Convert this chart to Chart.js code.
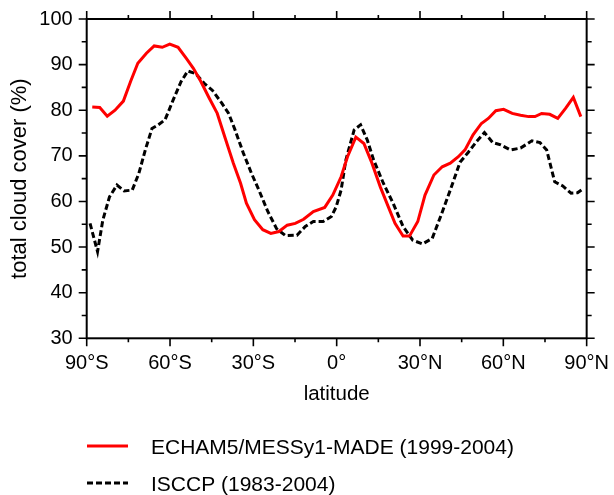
<!DOCTYPE html>
<html>
<head>
<meta charset="utf-8">
<script src="https://cdn.jsdelivr.net/npm/chart.js@4.4.1/dist/chart.umd.min.js"></script>
<style>
html,body{margin:0;padding:0;background:#ffffff;}
#wrap{width:614px;height:495px;position:relative;}
</style>
</head>
<body>
<div id="wrap"><canvas id="c" width="614" height="495"></canvas></div>
<script>
// ---- data ----
const seriesNames = ['ECHAM5/MESSy1-MADE (1999-2004)', 'ISCCP (1983-2004)'];

const modelLat = [-88.0,-85.3,-82.6,-79.8,-76.8,-74.2,-71.6,-68.5,-65.7,-62.8,-60.1,-57.1,-54.2,-51.6,-48.9,-46.0,-43.0,-40.1,-37.2,-34.6,-32.5,-29.6,-26.6,-23.7,-20.8,-17.8,-14.9,-11.9,-8.4,-4.3,-1.4,1.6,3.9,6.9,9.8,12.7,15.7,18.6,21.0,23.9,26.2,29.2,31.8,35.0,38.0,40.9,43.8,46.2,49.1,52.1,54.6,57.3,60.1,63.2,66.2,69.1,71.4,73.8,76.7,79.6,82.4,85.2,87.9];
const modelCloud = [80.7,80.6,78.7,80.0,82.0,86.3,90.3,92.5,94.1,93.8,94.5,93.8,91.4,89.2,86.3,82.8,79.3,73.8,68.4,64.0,59.6,56.0,53.8,53.0,53.4,54.8,55.2,56.1,57.8,58.7,61.4,65.4,69.8,74.1,72.7,68.4,63.2,58.8,55.2,52.4,52.4,55.6,61.4,65.8,67.6,68.4,69.8,71.3,74.6,77.1,78.2,79.9,80.2,79.3,78.9,78.6,78.6,79.3,79.1,78.2,80.4,82.8,78.6];

const obsLat = [-88.8,-86.1,-84.2,-81.8,-79.1,-76.5,-73.6,-71.2,-68.9,-66.5,-64.2,-61.8,-58.9,-56.0,-53.6,-50.7,-47.7,-44.8,-41.3,-38.9,-36.6,-33.6,-30.7,-27.8,-24.8,-21.6,-18.4,-14.3,-11.3,-8.4,-4.9,-1.9,-0.2,1.6,3.3,6.3,8.6,11.0,13.3,16.8,20.4,23.9,27.4,30.9,34.4,37.6,40.9,44.4,47.4,50.3,53.2,56.2,59.1,62.6,66.2,70.3,73.2,75.6,78.5,81.4,84.4,86.7,89.0];
const obsCloud = [55.2,49.0,55.9,61.0,63.6,62.3,62.5,66.2,71.3,76.0,76.8,77.9,82.2,86.3,88.6,88.0,85.9,84.4,81.5,79.3,75.7,70.6,66.2,62.2,57.8,54.0,52.5,52.6,54.5,55.6,55.6,56.7,58.8,62.5,69.1,75.7,76.8,73.5,69.1,64.0,59.5,54.5,51.5,50.7,51.9,57.0,62.5,68.6,70.8,73.1,75.1,72.9,72.4,71.3,71.7,73.3,72.9,71.3,64.3,63.4,61.8,61.9,62.9];

const xTickValues = [-90,-60,-30,0,30,60,90];
const xTickLabels = ['90°S','60°S','30°S','0°','30°N','60°N','90°N'];
const xMinorStep = 15;
const yTickValues = [30,40,50,60,70,80,90,100];
const yMinorStep = 5;
const xTitle = 'latitude';
const yTitle = 'total cloud cover (%)';

// ---- styling ----
const FONT = '"Liberation Sans", Arial, Helvetica, sans-serif';
const colors = ['#ff0000', '#000000'];
const dashes = [[], [6, 3]];

function toPoints(xs, ys){ return xs.map((x,i)=>({x:x, y:ys[i]})); }

const frameAndTicks = {
  id: 'frameAndTicks',
  afterDatasetsDraw(chart){
    const ctx = chart.ctx;
    const a = chart.chartArea;
    const xs = chart.scales.x, ys = chart.scales.y;
    ctx.save();
    ctx.strokeStyle = '#000';
    ctx.lineWidth = 2;
    ctx.setLineDash([]);
    ctx.strokeRect(a.left, a.top, a.right - a.left, a.bottom - a.top);
    ctx.lineWidth = 1.6;
    ctx.beginPath();
    for (let v = xs.min; v <= xs.max + 1e-9; v += xMinorStep){
      const px = xs.getPixelForValue(v);
      const len = (Math.abs(v) % 30 === 0) ? 8 : 4;
      ctx.moveTo(px, a.bottom); ctx.lineTo(px, a.bottom + len);
      ctx.moveTo(px, a.top); ctx.lineTo(px, a.top - len);
    }
    for (let v = ys.min; v <= ys.max + 1e-9; v += yMinorStep){
      const py = ys.getPixelForValue(v);
      const len = (v % 10 === 0) ? 8 : 5;
      ctx.moveTo(a.left, py); ctx.lineTo(a.left - len, py);
      ctx.moveTo(a.right, py); ctx.lineTo(a.right + len, py);
    }
    ctx.stroke();
    ctx.restore();
  }
};

const bottomLegend = {
  id: 'bottomLegend',
  afterDraw(chart){
    const ctx = chart.ctx;
    const rows = [446, 483];
    ctx.save();
    chart.data.datasets.forEach((ds, i) => {
      const y = rows[i];
      ctx.strokeStyle = ds.borderColor;
      ctx.lineWidth = ds.borderWidth;
      ctx.setLineDash(ds.borderDash || []);
      ctx.beginPath();
      ctx.moveTo(87, y); ctx.lineTo(128, y);
      ctx.stroke();
      ctx.setLineDash([]);
      ctx.fillStyle = '#000';
      ctx.font = '21px ' + FONT;
      ctx.textBaseline = 'middle';
      ctx.textAlign = 'left';
      ctx.fillText(ds.label, 151, y + 2);
    });
    ctx.restore();
  }
};

new Chart(document.getElementById('c'), {
  type: 'line',
  data: {
    datasets: [
      { label: seriesNames[0], data: toPoints(modelLat, modelCloud), borderColor: colors[0], borderWidth: 3, borderDash: dashes[0], pointRadius: 0, tension: 0, fill: false },
      { label: seriesNames[1], data: toPoints(obsLat, obsCloud), borderColor: colors[1], borderWidth: 3, borderDash: dashes[1], pointRadius: 0, tension: 0, fill: false }
    ]
  },
  options: {
    responsive: false,
    animation: false,
    devicePixelRatio: 1,
    layout: { padding: { top: 19, right: 16.3, bottom: 88, left: 0 } },
    plugins: { legend: { display: false }, tooltip: { enabled: false } },
    scales: {
      x: {
        type: 'linear', min: -90, max: 90,
        afterBuildTicks: s => { s.ticks = xTickValues.map(v => ({ value: v })); },
        afterFit: s => { s.height = 68.7; },
        grid: { display: true, drawOnChartArea: false, drawTicks: true, tickLength: 8, color: 'rgba(0,0,0,0)' },
        border: { display: false },
        ticks: {
          padding: 5, color: '#000', maxRotation: 0, autoSkip: false,
          font: { family: FONT, size: 20 },
          callback: v => { const i = xTickValues.indexOf(v); return i >= 0 ? xTickLabels[i] : ''; }
        },
        title: { display: true, text: xTitle, color: '#000', font: { family: FONT, size: 20.5 }, padding: { top: 0, bottom: 0 } }
      },
      y: {
        type: 'linear', min: 30, max: 100,
        afterBuildTicks: s => { s.ticks = yTickValues.map(v => ({ value: v })); },
        afterFit: s => { s.width = 86.7; },
        grid: { display: true, drawOnChartArea: false, drawTicks: true, tickLength: 8, color: 'rgba(0,0,0,0)' },
        border: { display: false },
        ticks: { padding: 6, color: '#000', font: { family: FONT, size: 20 }, callback: v => String(v) },
        title: { display: true, text: yTitle, color: '#000', font: { family: FONT, size: 22 }, padding: { top: 7, bottom: 0 } }
      }
    }
  },
  plugins: [frameAndTicks, bottomLegend]
});
</script>
</body>
</html>
